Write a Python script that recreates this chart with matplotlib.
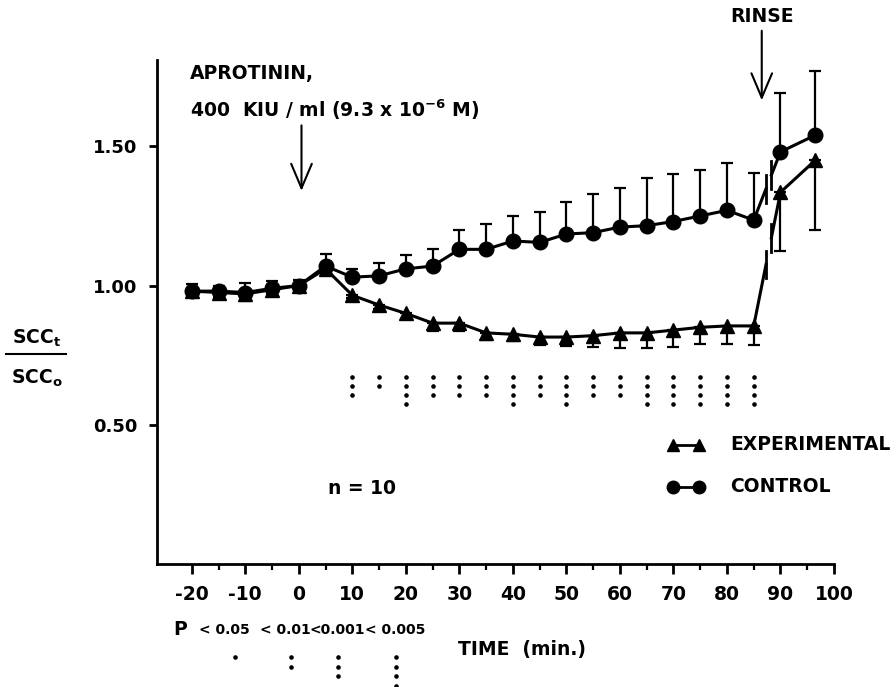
import numpy as np
import matplotlib
matplotlib.use('Agg')
import matplotlib.pyplot as plt
from matplotlib.lines import Line2D

plt.rcParams['font.family'] = ['DejaVu Sans']
plt.rcParams['font.size'] = 13.5
plt.rcParams['font.weight'] = 'bold'
plt.rcParams['mathtext.default'] = 'bf'

# data (SCCt / SCCo, mean +/- SEM)
time = [-20, -15, -10, -5, 0, 5, 10, 15, 20, 25, 30, 35, 40, 45, 50, 55, 60, 65, 70, 75, 80, 85, 90, 96.5]
control = [0.98, 0.98, 0.975, 0.99, 1.00, 1.07, 1.03, 1.035, 1.06, 1.07, 1.13, 1.13, 1.16, 1.155,
           1.185, 1.19, 1.21, 1.215, 1.23, 1.25, 1.27, 1.235, 1.48, 1.54]
control_sem = [0.025, 0.02, 0.035, 0.025, 0.02, 0.045, 0.03, 0.045, 0.05, 0.06, 0.07, 0.09, 0.09, 0.11,
               0.115, 0.14, 0.14, 0.17, 0.17, 0.165, 0.17, 0.17, 0.21, 0.23]
experimental = [0.98, 0.975, 0.97, 0.985, 1.00, 1.06, 0.965, 0.93, 0.90, 0.865, 0.865, 0.83, 0.825, 0.815,
                0.815, 0.82, 0.83, 0.83, 0.84, 0.85, 0.855, 0.855, 1.335, 1.45]
experimental_sem = [0.02, 0.015, 0.025, 0.015, 0.01, 0.01, 0.01, 0.015, 0.02, 0.028, 0.03, 0.027, 0.025, 0.03,
                    0.033, 0.04, 0.055, 0.055, 0.06, 0.06, 0.065, 0.07, 0.21, 0.25]

# significance dots under the curves (number of dots = P level)
sig_time = [10, 15, 20, 25, 30, 35, 40, 45, 50, 55, 60, 65, 70, 75, 80, 85]
sig_dots = [3, 2, 4, 3, 3, 3, 4, 3, 4, 3, 3, 4, 4, 4, 4, 4]

p_labels = ['< 0.05', '< 0.01', '<0.001', '< 0.005']
p_dots = [1, 2, 3, 4]

xticks = list(range(-20, 101, 10))
xtick_labels = ['-20', '-10', '0', '10', '20', '30', '40', '50', '60', '70', '80', '90', '100']
yticks = [0.5, 1.0, 1.5]
ytick_labels = ['0.50', '1.00', '1.50']

time = np.array(time)
control = np.array(control)
experimental = np.array(experimental)
zeros = np.zeros(len(time))

fig = plt.figure(figsize=(8.96, 6.87), dpi=100)
ax = fig.add_axes([157 / 896, 1 - 564 / 687, (834 - 157) / 896, (564 - 60) / 687])
ax.set_xlim(-26.5, 100)
ax.set_ylim(0, 1.81)

# error bars: control upward, experimental downward
ax.errorbar(time, control, yerr=[zeros, control_sem], fmt='none', ecolor='black',
            elinewidth=1.6, capsize=4.5, capthick=1.6, zorder=2)
ax.errorbar(time, experimental, yerr=[experimental_sem, zeros], fmt='none', ecolor='black',
            elinewidth=1.6, capsize=4.5, capthick=1.6, zorder=2)

pre = time <= 85
post = time >= 90
br1, br2 = 87.3, 88.3
for vals, mk, ms in [(control, 'o', 10.5), (experimental, '^', 10)]:
    ax.plot(time[pre], vals[pre], color='black', lw=2.2, marker=mk, ms=ms, zorder=3)
    ax.plot(time[post], vals[post], color='black', lw=2.2, marker=mk, ms=ms, zorder=3)
    # broken line across the rinse
    y1 = np.interp(br1, time, vals)
    y2 = np.interp(br2, time, vals)
    ax.plot([85, br1], [vals[pre][-1], y1], color='black', lw=2.2, zorder=3)
    ax.plot([br2, 90], [y2, vals[post][0]], color='black', lw=2.2, zorder=3)
    ax.plot([br1, br1], [y1 - 0.05, y1 + 0.05], color='black', lw=2, zorder=3)
    ax.plot([br2, br2], [y2 - 0.05, y2 + 0.05], color='black', lw=2, zorder=3)

for t, n in zip(sig_time, sig_dots):
    ys = 0.67 - 0.032 * np.arange(n)
    ax.plot([t] * n, ys, ls='none', marker='o', ms=2.3, color='black')

# axes styling
for s in ['top', 'right']:
    ax.spines[s].set_visible(False)
for s in ['left', 'bottom']:
    ax.spines[s].set_linewidth(2)
ax.set_xticks(xticks)
ax.set_xticklabels(xtick_labels, fontsize=13.5)
ax.set_xticks(list(range(-15, 100, 10)), minor=True)
ax.set_yticks(yticks)
ax.set_yticklabels(ytick_labels, fontsize=13)
ax.tick_params(axis='x', which='major', length=7, width=2, pad=8)
ax.tick_params(axis='x', which='minor', length=4, width=1.6)
ax.tick_params(axis='y', which='major', length=6, width=2, pad=8)

# annotations
ax.text(-20.4, 1.76, 'APROTININ,', ha='left', va='center')
ax.text(-20.4, 1.633, r'400  KIU / ml (9.3 x 10$^{-6}$ M)', ha='left', va='center')
ax.annotate('', xy=(0.5, 1.33), xytext=(0.5, 1.585),
            arrowprops=dict(arrowstyle='->,head_length=1.3,head_width=0.55', lw=1.5, color='black'))
ax.text(86.5, 1.965, 'RINSE', ha='center', va='center', clip_on=False)
ax.annotate('', xy=(86.5, 1.655), xytext=(86.5, 1.925), annotation_clip=False,
            arrowprops=dict(arrowstyle='->,head_length=1.3,head_width=0.55', lw=1.5, color='black'))
ax.text(11.8, 0.27, 'n = 10', ha='center', va='center')

# legend drawn by hand
ax.plot([70, 74.8], [0.428, 0.428], color='black', lw=2, marker='^', ms=8)
ax.plot([70, 74.8], [0.278, 0.278], color='black', lw=2, marker='o', ms=9)
ax.text(80.6, 0.428, 'EXPERIMENTAL', ha='left', va='center')
ax.text(80.6, 0.278, 'CONTROL', ha='left', va='center')

# P-value key below the axis
ax.text(-22.2, -0.237, 'P', ha='center', va='center', clip_on=False)
p_text_x = [-14.0, -2.5, 7.1, 18.0]
p_dot_x = [-12.0, -1.4, 7.3, 18.1]
for tx, lab, dx, n in zip(p_text_x, p_labels, p_dot_x, p_dots):
    ax.text(tx, -0.237, lab, ha='center', va='center', fontsize=10)
    ys = -0.335 - 0.034 * np.arange(n)
    ax.plot([dx] * n, ys, ls='none', marker='o', ms=2.3, color='black', clip_on=False)

fig.text(522 / 896, 1 - 650 / 687, 'TIME  (min.)', ha='center', va='center')

# y label as a fraction
fig.text(37 / 896, 1 - 338 / 687, r'SCC$_\mathregular{t}$', ha='center', va='center')
fig.text(37 / 896, 1 - 378 / 687, r'SCC$_\mathregular{o}$', ha='center', va='center')
fig.add_artist(Line2D([6 / 896, 66 / 896], [1 - 354 / 687, 1 - 354 / 687], color='black', lw=1.5))

fig.savefig('out.png', dpi=100)
